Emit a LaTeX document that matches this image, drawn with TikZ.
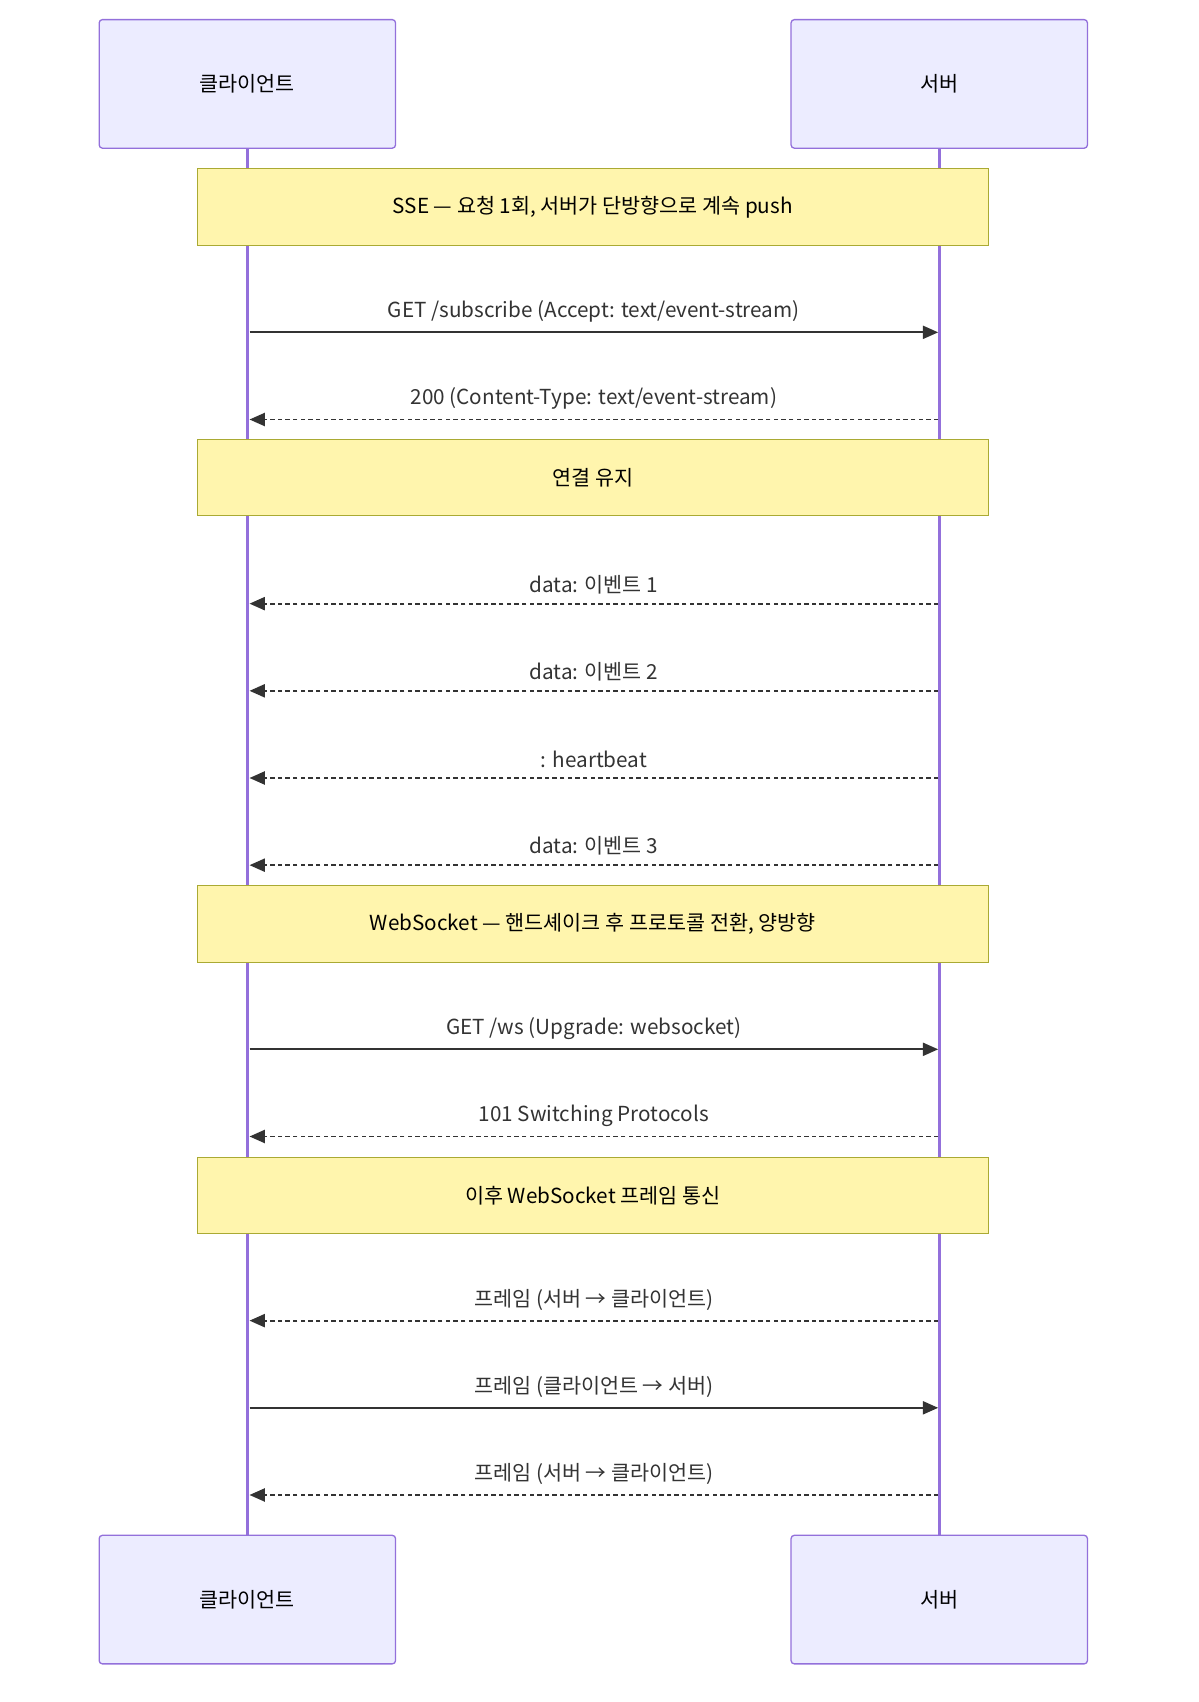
\documentclass[tikz,border=0pt]{standalone}
\usepackage{fontspec}
\setmainfont{Noto Sans CJK KR}
\usetikzlibrary{arrows.meta}
\definecolor{actfill}{HTML}{ECECFF}
\definecolor{actline}{HTML}{9370DB}
\definecolor{notefill}{HTML}{FFF5AD}
\definecolor{noteline}{HTML}{AAAA33}
\definecolor{txt}{HTML}{333333}
\begin{document}
\begin{tikzpicture}[x=1pt,y=-1pt,
  actor/.style={draw=actline,fill=actfill,line width=1.2pt,rounded corners=3pt,minimum width=272pt,minimum height=118pt,font=\fontsize{19}{22}\selectfont},
  note/.style={draw=noteline,fill=notefill,line width=1pt,minimum width=726pt,minimum height=70pt,font=\fontsize{19}{22}\selectfont},
  lbl/.style={font=\fontsize{19}{22}\selectfont,text=txt},
  msg/.style={draw=txt,line width=1.6pt,-{Triangle[length=14pt,width=12pt]}},
  rep/.style={msg,dash pattern=on 4pt off 3pt},
  life/.style={draw=actline,line width=2.5pt}]
\useasboundingbox (0,0) rectangle (1100,1562);
\node[actor] (c1) at (227,77) {클라이언트};
\node[actor] (s1) at (862,77) {서버};
\node[actor] (c2) at (227,1468) {클라이언트};
\node[actor] (s2) at (862,1468) {서버};
\draw[life] (c1.south) -- (c2.north);
\draw[life] (s1.south) -- (s2.north);
\node[note] (n1) at (544,190) {SSE — 요청 1회, 서버가 단방향으로 계속 push};
\node[note] (n2) at (544,438) {연결 유지};
\node[note] (n3) at (544,848) {WebSocket — 핸드셰이크 후 프로토콜 전환, 양방향};
\node[note] (n4) at (544,1097) {이후 WebSocket 프레임 통신};
\foreach \n/\y in {a/305,b/385,c/554,d/634,e/714,f/794,g/963,h/1043,i/1212,j/1292,k/1372}{
  \coordinate (c\n) at (229,\y); \coordinate (s\n) at (861,\y);}
\draw[msg] (ca) -- (sa) node[lbl,midway,above=5pt] {GET /subscribe (Accept: text/event-stream)};
\draw[rep] (sb) -- (cb) node[lbl,midway,above=5pt] {200 (Content-Type: text/event-stream)};
\draw[rep] (sc) -- (cc) node[lbl,midway,above=5pt] {data: 이벤트 1};
\draw[rep] (sd) -- (cd) node[lbl,midway,above=5pt] {data: 이벤트 2};
\draw[rep] (se) -- (ce) node[lbl,midway,above=5pt] {: heartbeat};
\draw[rep] (sf) -- (cf) node[lbl,midway,above=5pt] {data: 이벤트 3};
\draw[msg] (cg) -- (sg) node[lbl,midway,above=5pt] {GET /ws (Upgrade: websocket)};
\draw[rep] (sh) -- (ch) node[lbl,midway,above=5pt] {101 Switching Protocols};
\draw[rep] (si) -- (ci) node[lbl,midway,above=5pt] {프레임 (서버 → 클라이언트)};
\draw[msg] (cj) -- (sj) node[lbl,midway,above=5pt] {프레임 (클라이언트 → 서버)};
\draw[rep] (sk) -- (ck) node[lbl,midway,above=5pt] {프레임 (서버 → 클라이언트)};
\end{tikzpicture}
\end{document}
